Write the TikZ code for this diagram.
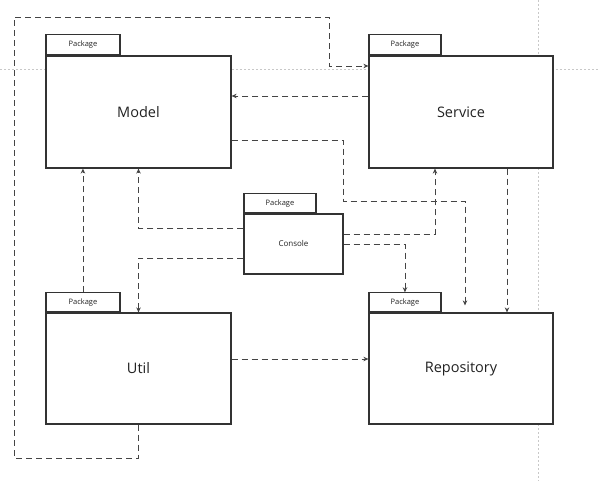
\documentclass[tikz,border=0pt]{standalone}
\usepackage{fontspec}
\setmainfont{Open Sans}
\usetikzlibrary{arrows.meta}
\definecolor{linec}{HTML}{333333}
\definecolor{depc}{HTML}{444444}
\definecolor{guidec}{HTML}{C8C8C8}
\definecolor{txtc}{HTML}{222222}
\begin{document}
\begin{tikzpicture}[x=1pt,y=-1pt,
  pkgbody/.style={draw=linec, fill=white, line width=1.2pt, inner sep=0pt,
    text=txtc, font=\fontsize{14.5}{16}\selectfont},
  bigbody/.style={pkgbody, minimum width=185pt, minimum height=112pt},
  pkgtab/.style={draw=linec, fill=white, line width=1.1pt, inner sep=0pt,
    minimum width=74pt, minimum height=20pt, anchor=south west,
    text=txtc, font=\fontsize{7.5}{8}\selectfont},
  dep/.style={draw=depc, line width=0.9pt, dash pattern=on 6pt off 4pt,
    -{Stealth[length=5pt,width=4.5pt]}},
  guide/.style={draw=guidec, line width=0.6pt, dash pattern=on 2pt off 2pt}
]
\useasboundingbox[fill=white] (0,0) rectangle (600,481);
% canvas guides
\draw[guide] (0,69) -- (600,69);
\draw[guide] (538.5,0) -- (538.5,481);

% packages
\node[bigbody] (model) at (138.5,112) {Model};
\node[pkgtab] (modeltab) at (model.north west) {Package};
\node[bigbody, minimum width=184pt] (service) at (461,112) {Service};
\node[pkgtab, minimum width=72pt] (servicetab) at (service.north west) {Package};
\node[bigbody, minimum height=111pt] (util) at (138.5,368.5) {Util};
\node[pkgtab, minimum height=19pt] (utiltab) at (util.north west) {Package};
\node[bigbody, minimum width=184pt, minimum height=111pt] (repo) at (461,368.5) {Repository};
\node[pkgtab, minimum width=72pt, minimum height=19pt] (repotab) at (repo.north west) {Package};
\node[pkgbody, minimum width=99pt, minimum height=60pt, font=\fontsize{8}{9}\selectfont] (console) at (293.5,244) {Console};
\node[pkgtab, minimum width=72pt, minimum height=19pt] (consoletab) at (console.north west) {Package};

% dependencies
\draw[dep] (util.south) -- (138.5,458) -- (14,458) -- (14,17) -- (329,17) -- (329,66) -- (service.west |- 0,66);
\draw[dep] (service.west |- 0,96) -- (model.east |- 0,96);
\draw[dep, shorten >=7pt] (model.east |- 0,140) -- (343,140) -- (343,201) -- (465,201) -- (repo.north -| 465,0);
\draw[dep] (console.west |- 0,228) -- (138.5,228) -- (model.south);
\draw[dep] (console.west |- 0,258) -- (138.5,258) -- (util.north);
\draw[dep] (utiltab.north) -- (model.south -| utiltab.north);
\draw[dep] (console.east |- 0,234) -- (435,234) -- (service.south -| 435,0);
\draw[dep] (console.east |- 0,244) -- (repotab.north |- 0,244) -- (repotab.north);
\draw[dep] (service.south -| 507,0) -- (repo.north -| 507,0);
\draw[dep] (util.east |- 0,359) -- (repo.west |- 0,359);
\end{tikzpicture}
\end{document}
